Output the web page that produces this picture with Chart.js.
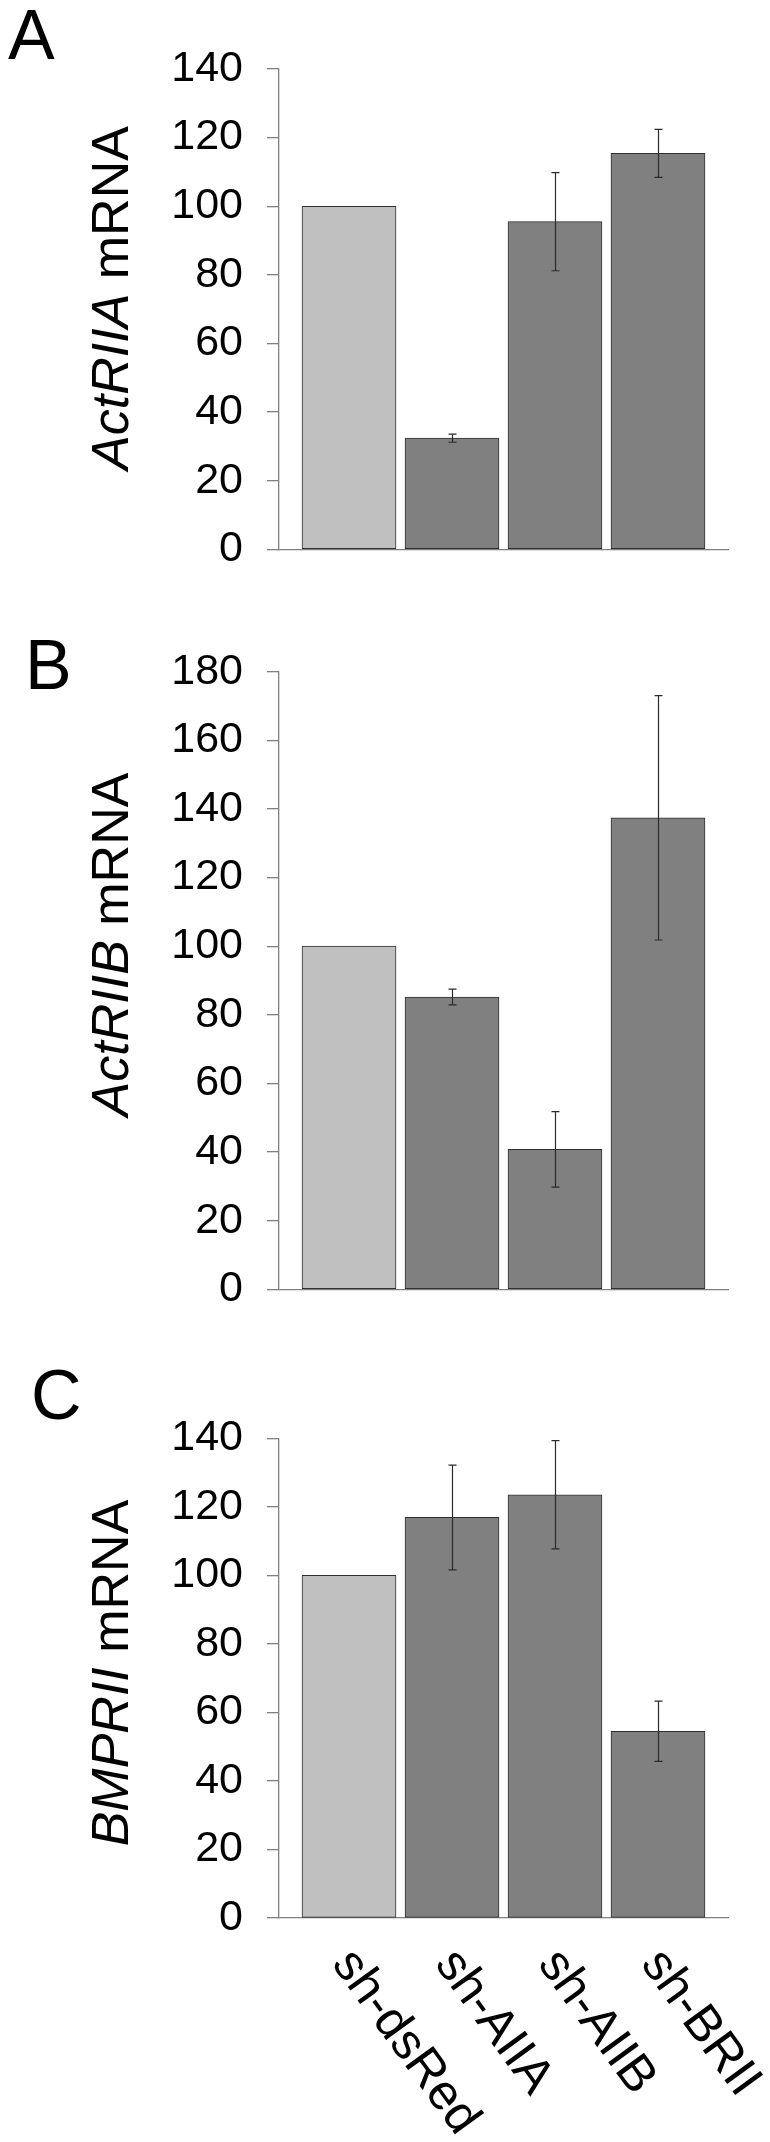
<!DOCTYPE html>
<html>
<head>
<meta charset="utf-8">
<script src="https://cdn.jsdelivr.net/npm/chart.js@4.4.1/dist/chart.umd.min.js"></script>
<style>
html,body{margin:0;padding:0;background:#fff;}
#wrap{position:relative;width:770px;height:2142px;}
canvas{position:absolute;left:0;display:block;}
</style>
</head>
<body>
<div id="wrap">
  <canvas id="chartA" width="770" height="620" style="top:0"></canvas>
  <canvas id="chartB" width="770" height="780" style="top:620px"></canvas>
  <canvas id="chartC" width="770" height="822" style="top:1320px"></canvas>
</div>
<script>
// data
const categories = ["sh-dsRed", "sh-AIIA", "sh-AIIB", "sh-BRII"];
const actRIIA = [100, 32.4, 95.5, 115.4];
const actRIIAErr = [0, 1.2, 14.3, 7.0];
const actRIIB = [100, 85.2, 40.8, 137.4];
const actRIIBErr = [0, 2.3, 11.0, 35.6];
const bmprII = [100, 116.9, 123.5, 54.5];
const bmprIIErr = [0, 15.3, 15.8, 8.8];
const yTicksA = [0, 20, 40, 60, 80, 100, 120, 140];
const yTicksB = [0, 20, 40, 60, 80, 100, 120, 140, 160, 180];
const yTicksC = [0, 20, 40, 60, 80, 100, 120, 140];

const barColors = ["#c0c0c0", "#808080", "#808080", "#808080"];
const FONT = '"Liberation Sans", Arial, Helvetica, sans-serif';
const AXIS = "#808080";

// error bars on top of each bar
const errorBars = {
  id: "errorBars",
  afterDatasetsDraw(chart, args, opts) {
    const ctx = chart.ctx, x = chart.scales.x, y = chart.scales.y;
    const ds = chart.data.datasets[0];
    ctx.save();
    ctx.strokeStyle = "#2b2b2b";
    ctx.lineWidth = 1.2;
    ds.data.forEach((p, i) => {
      const e = opts.errors[i];
      if (!e) return;
      const px = Math.round(x.getPixelForValue(p.x)) + 0.5;
      const top = y.getPixelForValue(p.y + e), bot = y.getPixelForValue(p.y - e);
      ctx.beginPath();
      ctx.moveTo(px, top); ctx.lineTo(px, bot);
      ctx.moveTo(px - 4, top); ctx.lineTo(px + 4, top);
      ctx.moveTo(px - 4, bot); ctx.lineTo(px + 4, bot);
      ctx.stroke();
    });
    ctx.restore();
  }
};

// panel letter, y title (italic gene + " mRNA"), rotated x labels
const decor = {
  id: "decor",
  afterDraw(chart, args, o) {
    const ctx = chart.ctx;
    ctx.save();
    ctx.fillStyle = "#000";
    ctx.textAlign = "left";
    ctx.textBaseline = "alphabetic";
    ctx.font = "70px " + FONT;
    ctx.fillText(o.letter, o.letterX, o.letterY);

    ctx.save();
    ctx.translate(o.titleX, o.titleY);
    ctx.rotate(-Math.PI / 2);
    const fi = "italic 52px " + FONT, fr = "52px " + FONT;
    ctx.font = fi; const w1 = ctx.measureText(o.gene).width;
    ctx.font = fr; const w2 = ctx.measureText(" mRNA").width;
    const sx = -(w1 + w2) / 2;
    ctx.font = fi; ctx.fillText(o.gene, sx, 0);
    ctx.font = fr; ctx.fillText(" mRNA", sx + w1, 0);
    ctx.restore();

    if (o.xLabels) {
      const x = chart.scales.x, bottom = chart.chartArea.bottom;
      ctx.font = "50px " + FONT;
      chart.data.labels.forEach((lab, i) => {
        ctx.save();
        ctx.translate(x.getPixelForValue(i) - 18, bottom + 46);
        ctx.rotate(54 * Math.PI / 180);
        ctx.fillText(lab, 0, 0);
        ctx.restore();
      });
    }
    ctx.restore();
  }
};

function makeChart(id, values, errors, yTicks, pad, deco) {
  return new Chart(document.getElementById(id), {
    type: "bar",
    data: {
      labels: categories,
      datasets: [{
        data: categories.map((c, i) => ({ x: i, y: values[i] })),
        backgroundColor: barColors,
        borderColor: "#303030",
        borderWidth: 1,
        borderSkipped: false,
        barThickness: 94
      }]
    },
    options: {
      responsive: false,
      devicePixelRatio: 1,
      animation: false,
      layout: { padding: pad },
      plugins: {
        legend: { display: false },
        tooltip: { enabled: false },
        errorBars: { errors: errors },
        decor: deco
      },
      scales: {
        x: {
          type: "linear",
          offset: false,
          min: -0.68,
          max: 3.68,
          afterFit: s => { s.height = 0; },
          grid: { display: false, offset: false },
          ticks: { display: false },
          border: { display: true, color: AXIS, width: 1.3 }
        },
        y: {
          min: yTicks[0],
          max: yTicks[yTicks.length - 1],
          afterFit: s => { s.width = 279; },
          afterBuildTicks: s => { s.ticks = yTicks.map(v => ({ value: v })); },
          grid: { drawOnChartArea: false, drawTicks: true, tickLength: 12, color: AXIS, lineWidth: 1.3 },
          border: { display: true, color: AXIS, width: 1.3 },
          ticks: { padding: 24, color: "#000", font: { family: FONT, size: 43 } }
        }
      }
    },
    plugins: [errorBars, decor]
  });
}

makeChart("chartA", actRIIA, actRIIAErr, yTicksA,
  { top: 69, bottom: 70.7, left: 0, right: 42 },
  { letter: "A", letterX: 8, letterY: 59, gene: "ActRIIA", titleX: 128, titleY: 298 });

makeChart("chartB", actRIIB, actRIIBErr, yTicksB,
  { top: 51.7, bottom: 110.7, left: 0, right: 42 },
  { letter: "B", letterX: 25, letterY: 69, gene: "ActRIIB", titleX: 128, titleY: 324.5 });

makeChart("chartC", bmprII, bmprIIErr, yTicksC,
  { top: 118.3, bottom: 224, left: 0, right: 42 },
  { letter: "C", letterX: 31, letterY: 99, gene: "BMPRII", titleX: 128, titleY: 353, xLabels: true });
</script>
</body>
</html>
